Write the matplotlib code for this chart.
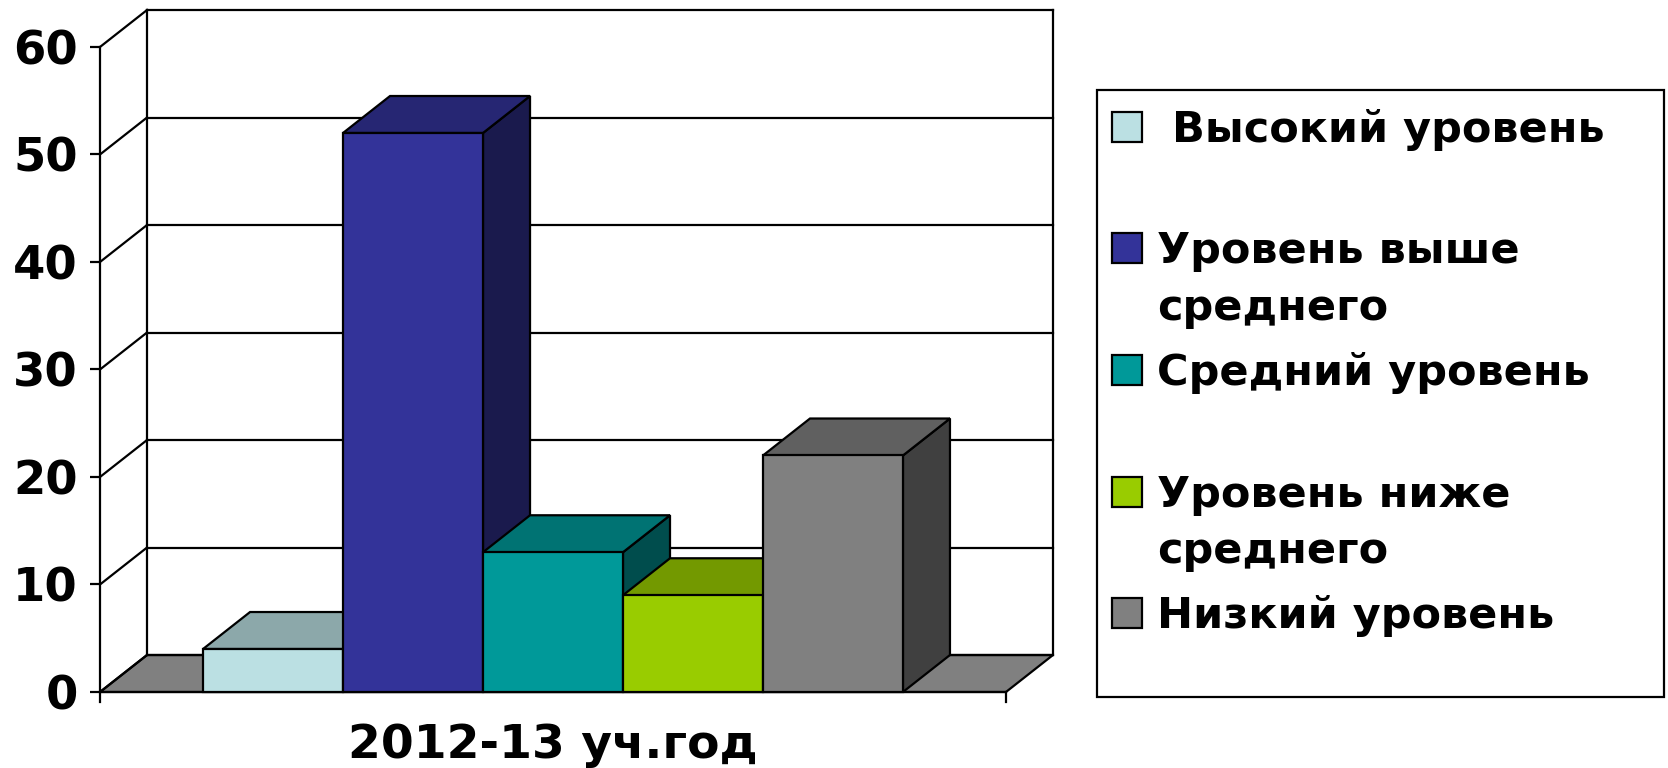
import matplotlib
matplotlib.use('Agg')
import matplotlib.pyplot as plt
from matplotlib.patches import Polygon, Rectangle
from matplotlib.colors import to_rgb

# data
categories = ['Высокий уровень', 'Уровень выше\nсреднего', 'Средний уровень',
              'Уровень ниже\nсреднего', 'Низкий уровень']
values = [4, 52, 13, 9, 22]
colors = ['#BBE0E3', '#333399', '#009999', '#99CC00', '#808080']
yticks = [0, 10, 20, 30, 40, 50, 60]
x_label = '2012-13 уч.год'

plt.rcParams['font.family'] = 'DejaVu Sans'
plt.rcParams['font.weight'] = 'bold'

W, H = 1668, 768
fig = plt.figure(figsize=(W / 100, H / 100), dpi=100)
ax = fig.add_axes([100 / W, 76 / H, 953 / W, 682 / H])


def shade(c, f):
    r, g, b = to_rgb(c)
    return (r * f, g * f, b * f)


gap = 0.736          # floor margin each side, in bar widths
dx, dy = 0.336, 3.44  # depth of the 3d box in data units
n = len(values)
x0, x1 = -gap, n + gap
top = yticks[-1]
lw = 1.6

ax.set_xlim(x0, x1 + dx)
ax.set_ylim(0, top + dy)
for s in ax.spines.values():
    s.set_visible(False)
ax.set_xticks([])
ax.set_yticks(yticks)
ax.tick_params(axis='y', length=7, width=lw, pad=9, labelsize=33.5)

# floor
ax.add_patch(Polygon([(x0, 0), (x1, 0), (x1 + dx, dy), (x0 + dx, dy)],
                     fc='#808080', ec='black', lw=lw, zorder=1, clip_on=False))
# walls and gridlines
for v in yticks:
    ax.plot([x0 + dx, x1 + dx], [v + dy, v + dy], color='black', lw=lw, zorder=1.5, clip_on=False)
    ax.plot([x0, x0 + dx], [v, v + dy], color='black', lw=lw, zorder=1.5, clip_on=False)
ax.plot([x0 + dx, x0 + dx], [dy, top + dy], color='black', lw=lw, zorder=1.5, clip_on=False)
ax.plot([x1 + dx, x1 + dx], [dy, top + dy], color='black', lw=lw, zorder=1.5, clip_on=False)
ax.plot([x0, x0], [-0.95, top], color='black', lw=lw, zorder=1.5, clip_on=False)
ax.plot([x0, x1], [0, 0], color='black', lw=lw, zorder=1.5, clip_on=False)
ax.plot([x1, x1], [0, -0.95], color='black', lw=lw, zorder=1.5, clip_on=False)

# 3d bars, left to right so each covers the side of the previous one
for i, (v, c) in enumerate(zip(values, colors)):
    z = 3 + i * 0.1
    side = Polygon([(i + 1, 0), (i + 1 + dx, dy), (i + 1 + dx, v + dy), (i + 1, v)],
                   fc=shade(c, 0.5), ec='black', lw=lw, zorder=z, clip_on=False)
    topf = Polygon([(i, v), (i + 1, v), (i + 1 + dx, v + dy), (i + dx, v + dy)],
                   fc=shade(c, 0.75), ec='black', lw=lw, zorder=z, clip_on=False)
    front = Rectangle((i, 0), 1, v, fc=c, ec='black', lw=lw, zorder=z, clip_on=False)
    ax.add_patch(side)
    ax.add_patch(topf)
    ax.add_patch(front)

ax.text(n / 2, -6.1, x_label, ha='center', va='baseline', fontsize=34,
        fontweight='bold', clip_on=False)

# legend box (pixel layout converted to figure fraction)
def fx(px):
    return px / W


def fy(py):
    return 1 - py / H


fig.patches.append(Rectangle((fx(1097), fy(697)), fx(1664) - fx(1097), fy(90) - fy(697),
                             transform=fig.transFigure, fc='white', ec='black', lw=lw))
step = 121.5
for i, (lab, c) in enumerate(zip(categories, colors)):
    cy = 127 + i * step
    fig.patches.append(Rectangle((fx(1112), fy(cy + 15)), fx(30), 30 / H,
                                 transform=fig.transFigure, fc=c, ec='black', lw=lw))
    lines = lab.split('\n')
    if i == 0:
        lines[0] = ' ' + lines[0]
    for k, line in enumerate(lines):
        fig.text(fx(1157), fy(cy + 15 + k * 57), line, ha='left', va='baseline',
                 fontsize=31, fontweight='bold')

fig.savefig('out.png', dpi=100)
